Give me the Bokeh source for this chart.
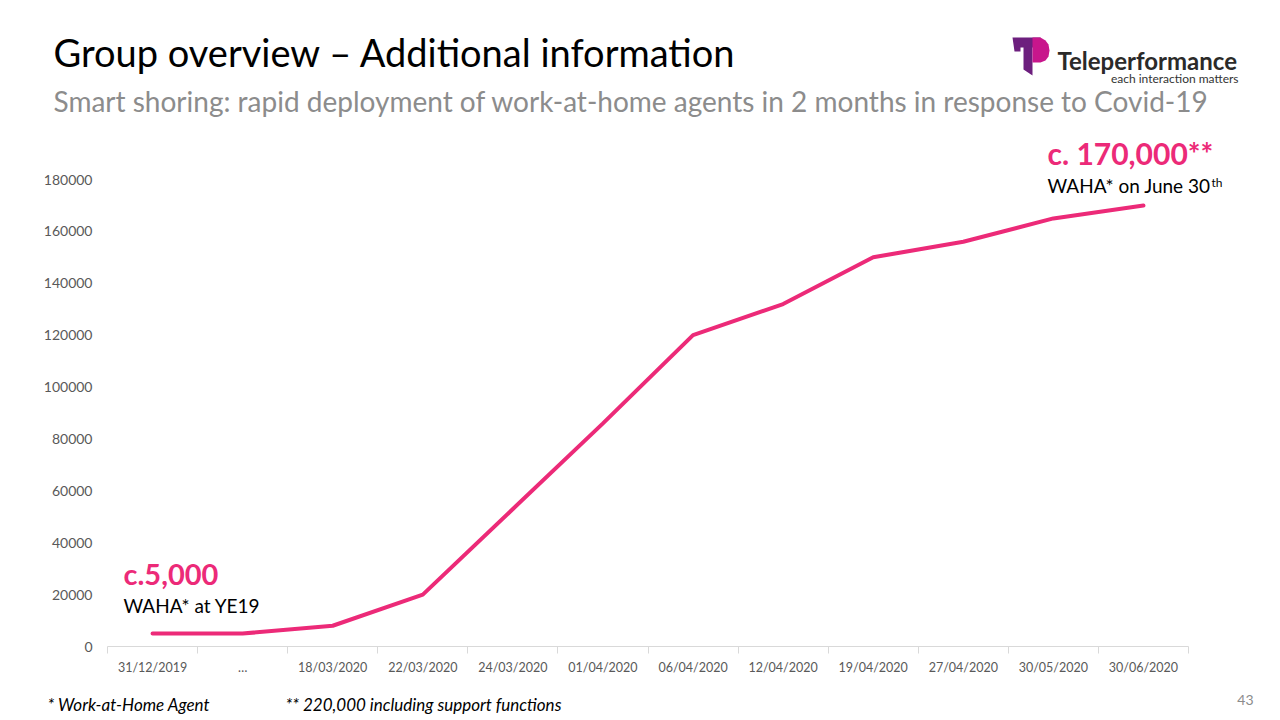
from bokeh.plotting import figure
from bokeh.layouts import column
from bokeh.models import (Range1d, FixedTicker, CustomJSTickFormatter, BasicTickFormatter,
                          Label, PolyAnnotation, ColumnDataSource)
from bokeh.embed import file_html
from bokeh.resources import INLINE

# ---- data ----
categories = ["31/12/2019", "…", "18/03/2020", "22/03/2020", "24/03/2020", "01/04/2020",
              "06/04/2020", "12/04/2020", "19/04/2020", "27/04/2020", "30/05/2020", "30/06/2020"]
waha_agents = [5000, 5000, 8000, 20000, 53000, 86000,
               120000, 132000, 150000, 156000, 165000, 170000]
y_ticks = [0, 20000, 40000, 60000, 80000, 100000, 120000, 140000, 160000, 180000]

PINK = "#EC2A78"
FONT = "Lato"
W = 1280
TOP_H, MAIN_H, BOT_H = 130, 560, 30
MAIN_Y0, BOT_Y0 = TOP_H, TOP_H + MAIN_H
BASE_SHIFT = 0.42  # empirical baseline correction (em)


def blank(h):
    f = figure(width=W, height=h, output_backend="svg", toolbar_location=None,
               x_range=Range1d(0, W), y_range=Range1d(h, 0),
               x_axis_location=None, y_axis_location=None, min_border=0,
               frame_align=False)
    f.outline_line_color = None
    f.xgrid.visible = False
    f.ygrid.visible = False
    return f


def lab(fig, y0, text, x, y, size, color="black", style="normal", align="left"):
    fig.add_layout(Label(x=x, y=y - y0 - BASE_SHIFT * size, x_units="canvas", y_units="canvas",
                         text=text, text_font=FONT, text_font_size=f"{size}px",
                         text_color=color, text_font_style=style, text_align=align,
                         text_baseline="alphabetic"))


def poly(fig, xs_, ys_, color):
    fig.add_layout(PolyAnnotation(xs=xs_, ys=ys_, xs_units="canvas", ys_units="canvas",
                                  fill_color=color, fill_alpha=1, line_color=None))


# ---------- top: title, subtitle, logo ----------
top = blank(TOP_H)
lab(top, 0, "Group overview – Additional information", 53, 67, 38)
lab(top, 0, "Smart shoring: rapid deployment of work-at-home agents in 2 months in response to Covid-19",
    53, 112, 28, color="#8C8C8C")
lab(top, 0, "Teleperformance", 1057, 70, 24, color="#2B2A29", style="bold")
lab(top, 0, "each interaction matters", 1238, 83, 12, color="#333333", align="right")

# logo mark
poly(top, [1012, 1040, 1040, 1032, 1032, 1026, 1023, 1023, 1020, 1020, 1014],
     [37, 37, 47, 47, 75, 71, 69, 47, 47, 51, 51], "#6D1F7E")
poly(top, [1032, 1040, 1045, 1048, 1049, 1048, 1045, 1040, 1032],
     [37, 37, 40, 44, 50, 56, 60, 62, 62], "#C8168C")

# ---------- main chart ----------
FR_L, FR_R, FR_B = 107, 1240, 646
n = len(categories)
x_max = n * (FR_R - FR_L) / (1188 - FR_L)
y_max = 180000 * (FR_B - MAIN_Y0) / (FR_B - 179)

p = figure(width=W, height=MAIN_H, output_backend="svg", toolbar_location=None,
           x_range=Range1d(0, x_max), y_range=Range1d(0, y_max),
           min_border_left=FR_L, min_border_right=W - FR_R,
           min_border_top=0, min_border_bottom=BOT_Y0 - FR_B, frame_align=False)
p.outline_line_color = None
p.xgrid.visible = False
p.ygrid.visible = False

xs = [i + 0.5 for i in range(n)]
src = ColumnDataSource(dict(x=xs, y=waha_agents))
p.line("x", "y", source=src, line_width=4, line_color=PINK, line_cap="round")

xa = p.xaxis[0]
xa.bounds = (0, n)
xa.ticker = FixedTicker(ticks=xs, minor_ticks=list(range(n + 1)))
xa.formatter = CustomJSTickFormatter(args=dict(labels=categories),
                                     code="return labels[Math.floor(tick)] || '';")
xa.axis_line_color = "#D9D9D9"
xa.major_tick_line_color = None
xa.major_tick_out = 0
xa.major_tick_in = 0
xa.minor_tick_line_color = "#D9D9D9"
xa.minor_tick_out = 7
xa.minor_tick_in = 0
xa.major_label_standoff = 6
xa.major_label_text_font = FONT
xa.major_label_text_font_size = "12.5px"
xa.major_label_text_color = "#595959"

ya = p.yaxis[0]
ya.ticker = FixedTicker(ticks=y_ticks)
ya.formatter = BasicTickFormatter(use_scientific=False)
ya.axis_line_color = None
ya.major_tick_line_color = None
ya.minor_tick_line_color = None
ya.major_tick_out = 0
ya.major_tick_in = 0
ya.major_label_standoff = 15
ya.major_label_text_font = FONT
ya.major_label_text_font_size = "14px"
ya.major_label_text_color = "#595959"

lab(p, MAIN_Y0, "c. 170,000**", 1047, 165, 30, color=PINK, style="bold")
lab(p, MAIN_Y0, "WAHA* on June 30", 1047, 193, 19)
lab(p, MAIN_Y0, "th", 1211, 187, 12)
lab(p, MAIN_Y0, "c.5,000", 123, 585, 29, color=PINK, style="bold")
lab(p, MAIN_Y0, "WAHA* at YE19", 123, 613, 19)

# ---------- bottom: footnotes ----------
bot = blank(BOT_H)
lab(bot, BOT_Y0, "* Work-at-Home Agent", 47, 711, 17, style="italic")
lab(bot, BOT_Y0, "** 220,000 including support functions", 285, 711, 17, style="italic")
lab(bot, BOT_Y0, "43", 1253, 705, 14, color="#8C8C8C", align="right")

layout = column(top, p, bot, spacing=0)
open("out.html", "w").write(file_html(layout, INLINE))
